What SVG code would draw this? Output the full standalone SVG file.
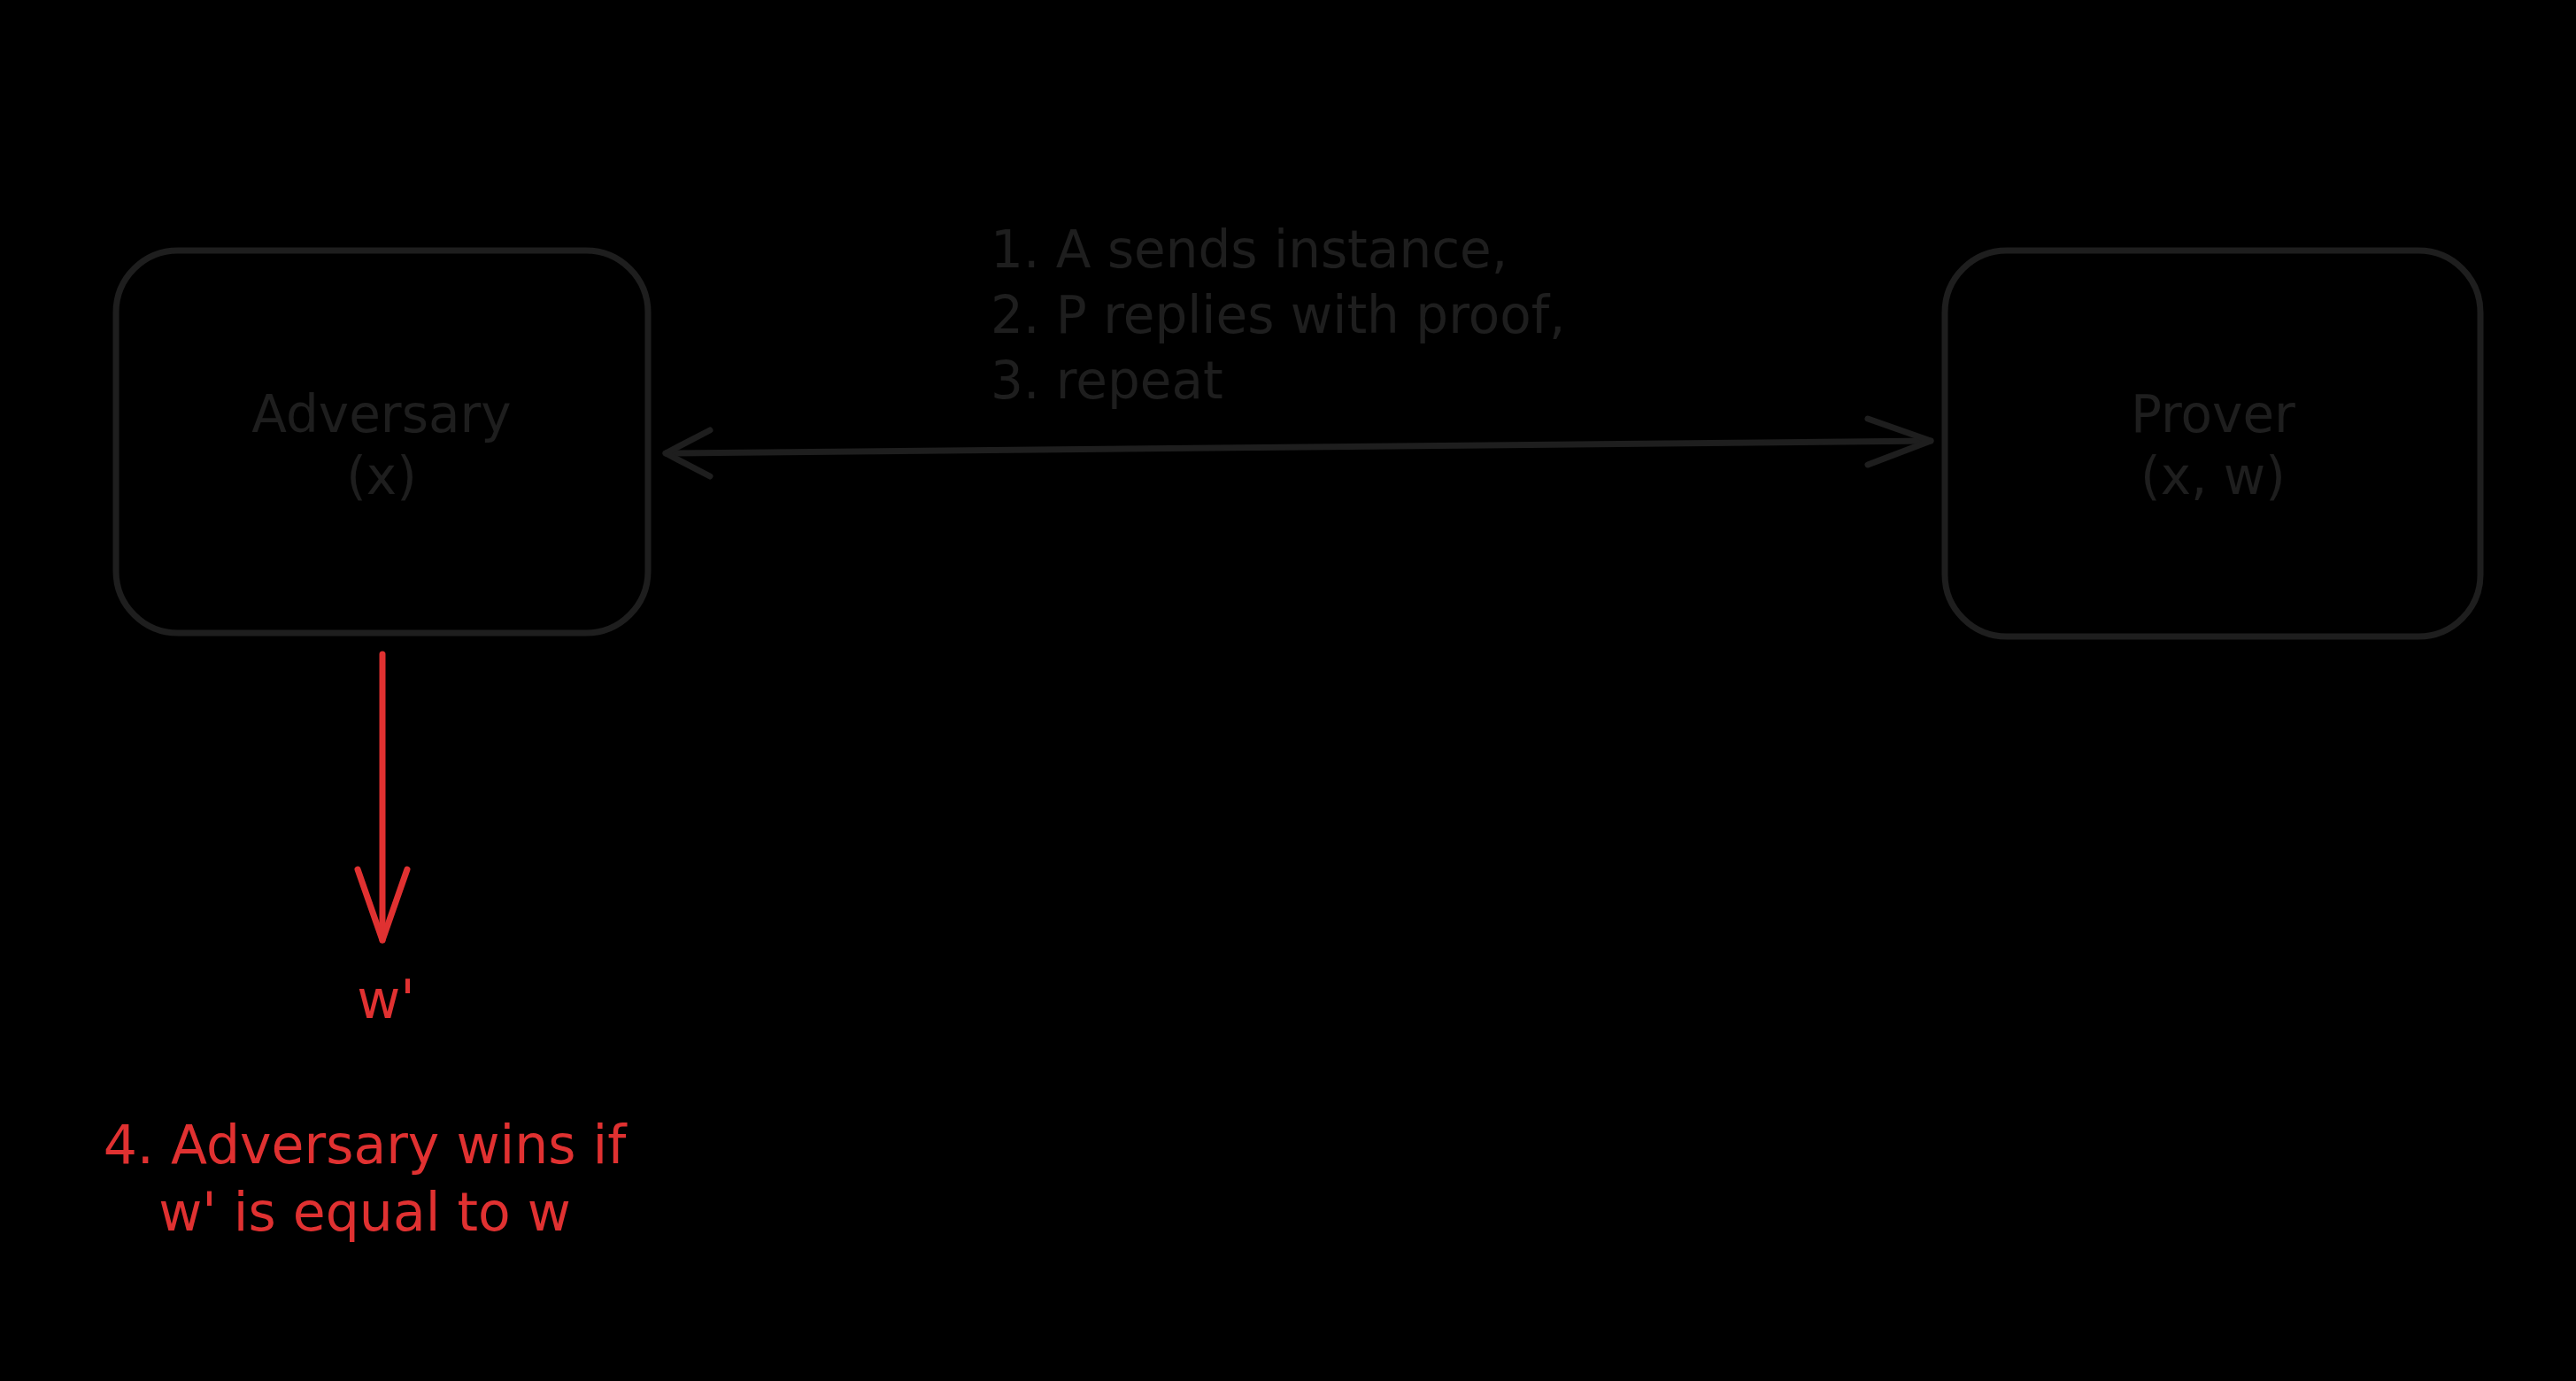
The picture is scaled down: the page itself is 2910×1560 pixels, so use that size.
<svg xmlns="http://www.w3.org/2000/svg" width="2910" height="1560" viewBox="0 0 2910 1560">
<style>
.box{fill:none;stroke:#1e1e1e;stroke-width:7;stroke-linejoin:round}
.dk{fill:#1e1e1e;font-family:"DejaVu Sans","Liberation Sans",sans-serif;font-size:58px}
.rd{fill:#e03131;font-family:"DejaVu Sans","Liberation Sans",sans-serif;font-size:60px}
.ln{fill:none;stroke-width:7;stroke-linecap:round;stroke-linejoin:round}
</style>
<rect x="0" y="0" width="2910" height="1560" fill="#000000"/>
<g id="adversary">
<rect class="box" x="131" y="283" width="601" height="432" rx="70"/>
<text class="dk" x="431" y="488" text-anchor="middle">Adversary</text>
<text class="dk" x="431" y="558" text-anchor="middle">(x)</text>
</g>
<g id="prover">
<rect class="box" x="2197" y="283" width="605" height="436" rx="70"/>
<text class="dk" x="2500" y="488" text-anchor="middle">Prover</text>
<text class="dk" x="2500" y="558" text-anchor="middle">(x, w)</text>
</g>
<g id="output">
<text class="rd" x="436" y="1150" text-anchor="middle">w'</text>
</g>
<g id="win-note">
<text class="rd" x="412" y="1314" text-anchor="middle">4. Adversary wins if</text>
<text class="rd" x="412" y="1390" text-anchor="middle">w' is equal to w</text>
</g>
<g id="connectors">
<path class="ln" stroke="#1e1e1e" d="M752 512 L2181 498"/>
<path class="ln" stroke="#1e1e1e" d="M802 486 L752 512 L802 538"/>
<path class="ln" stroke="#1e1e1e" d="M2110 473 L2181 498 L2110 525"/>
<text class="dk" x="1119" y="302">1. A sends instance,</text>
<text class="dk" x="1119" y="376">2. P replies with proof,</text>
<text class="dk" x="1119" y="450">3. repeat</text>
<path class="ln" stroke="#e03131" d="M432 739 L432 1062"/>
<path class="ln" stroke="#e03131" d="M404 982 L432 1062 L460 982"/>
</g>
</svg>
